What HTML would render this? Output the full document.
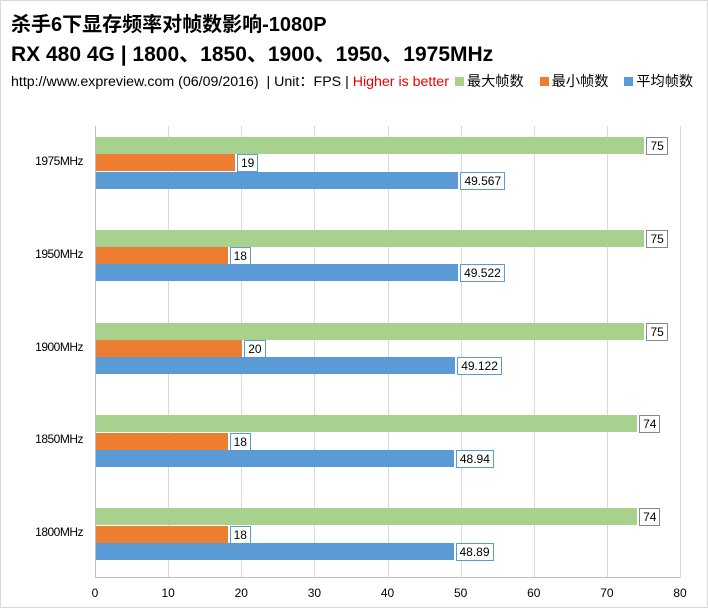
<!DOCTYPE html><html><head><meta charset="utf-8"><style>
body{margin:0;background:#fff}
.w{position:relative;width:706px;height:606px;border:1px solid #d9d9d9;overflow:hidden;font-family:"Liberation Sans","Noto Sans CJK SC",sans-serif}
.t{position:absolute;left:10px;font-weight:bold;color:#000;white-space:nowrap}
.s{position:absolute;left:10px;top:70px;font-size:14.2px;white-space:nowrap;color:#000}
.g{position:absolute;top:125px;width:1px;height:452px;background:#d9d9d9}
.b{position:absolute;height:17px}
.l{position:absolute;height:16px;border:1px solid #5b9bd5;background:#fff;font-size:12px;line-height:16px;padding:0 3px;box-sizing:content-box}
.c{position:absolute;font-size:12px;right:624px;text-align:right;letter-spacing:-0.5px}
.x{position:absolute;top:585px;font-size:12px;width:30px;margin-left:-15px;text-align:center}
.sq{display:inline-block;width:9px;height:9px;margin:0 3px 0 6px}
</style></head><body><div class="w">
<div class="t" style="top:7px;font-size:20px">杀手6下显存频率对帧数影响-1080P</div>
<div class="t" style="top:37px;font-size:21px">RX 480 4G | 1800、1850、1900、1950、1975MHz</div>
<div class="s">http://www.expreview.com (06/09/2016) &nbsp;| Unit：FPS | <span style="color:#e00">Higher is better</span><span class="sq" style="background:#a9d18e"></span>最大帧数 <span class="sq" style="background:#ed7d31;margin-left:12px"></span>最小帧数 <span class="sq" style="background:#5b9bd5;margin-left:12px"></span>平均帧数</div>
</div>
<script>
var w=document.querySelector('.w'),h='';
var x0=94,k=585/80;
for(var i=0;i<=8;i++){h+='<div class="g" style="left:'+(x0+i*k*10)+'px"></div><div class="x" style="left:'+(x0+i*k*10)+'px">'+i*10+'</div>';}
h+='<div style="position:absolute;left:94px;top:576px;width:585px;height:1px;background:#bfbfbf"></div>';
h+='<div style="position:absolute;left:94px;top:125px;width:1px;height:452px;background:#bfbfbf"></div>';
var d=[["1975MHz",75,19,"49.567",49.567],["1950MHz",75,18,"49.522",49.522],["1900MHz",75,20,"49.122",49.122],["1850MHz",74,18,"48.94",48.94],["1800MHz",74,18,"48.89",48.89]];
d.forEach(function(r,j){var y=136+j*92.8;
h+='<div class="c" style="top:'+(y+17)+'px">'+r[0]+'</div>';
[[r[1],'#a9d18e',r[1],'#888'],[r[2],'#ed7d31',r[2],'#5b9bd5'],[r[4],'#5b9bd5',r[3],'#5b9bd5']].forEach(function(q,m){var yy=y+m*17.3,wd=q[0]*k;
h+='<div class="b" style="left:95px;top:'+yy+'px;width:'+wd+'px;background:'+q[1]+'"></div>';
h+='<div class="l" style="left:'+(95+wd+2)+'px;top:'+yy+'px;border-color:'+q[3]+'">'+q[2]+'</div>';});});
w.insertAdjacentHTML('beforeend',h);
</script></body></html>
